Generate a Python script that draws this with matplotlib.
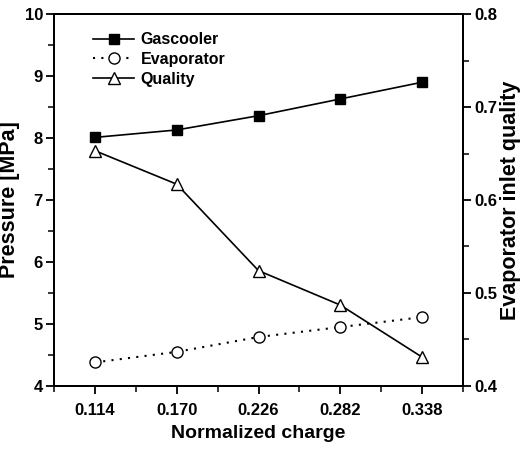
import matplotlib
matplotlib.use("Agg")
import matplotlib.pyplot as plt
from matplotlib.ticker import MultipleLocator, FixedLocator

plt.rcParams['font.family'] = ['Liberation Sans', 'DejaVu Sans']

charge = [0.114, 0.170, 0.226, 0.282, 0.338]
charge_labels = ["0.114", "0.170", "0.226", "0.282", "0.338"]
gascooler = [8.01, 8.13, 8.36, 8.63, 8.90]
evaporator = [4.38, 4.55, 4.79, 4.95, 5.11]
quality = [0.653, 0.617, 0.524, 0.487, 0.431]

fig = plt.figure(figsize=(5.23, 4.53), dpi=100)
ax = fig.add_axes([0.1033, 0.148, 0.782, 0.821])
ax2 = ax.twinx()

l1, = ax.plot(charge, gascooler, '-', color='black', lw=1.2, marker='s',
              ms=7.5, mfc='black', mec='black', label='Gascooler')
l2, = ax.plot(charge, evaporator, linestyle=(0, (1, 3)), color='black', lw=1.5,
              marker='o', ms=8, mfc='white', mec='black', mew=1.0,
              label='Evaporator')
l3, = ax2.plot(charge, quality, '-', color='black', lw=1.2, marker='^',
               ms=9, mfc='white', mec='black', mew=1.0, label='Quality')

ax.set_xlim(0.086, 0.366)
ax.set_ylim(4, 10)
ax2.set_ylim(0.4, 0.8)

ax.xaxis.set_major_locator(FixedLocator(charge))
ax.set_xticklabels(charge_labels)
ax.xaxis.set_minor_locator(FixedLocator([0.086, 0.142, 0.198, 0.254, 0.310, 0.366]))
ax.yaxis.set_major_locator(MultipleLocator(1))
ax.yaxis.set_minor_locator(MultipleLocator(0.5))
ax2.yaxis.set_major_locator(MultipleLocator(0.1))
ax2.yaxis.set_minor_locator(MultipleLocator(0.05))

for a in (ax, ax2):
    for s in a.spines.values():
        s.set_linewidth(1.4)
    a.tick_params(which='major', direction='out', length=6, width=1.3,
                  labelsize=12, pad=2)
    a.tick_params(which='minor', direction='out', length=4, width=1.1)
ax.tick_params(axis='x', pad=6)
for lab in ax.get_xticklabels() + ax.get_yticklabels() + ax2.get_yticklabels():
    lab.set_fontweight('bold')

ax.set_xlabel('Normalized charge', fontsize=14, fontweight='bold', labelpad=5)
ax.set_ylabel('Pressure [MPa]', fontsize=15.5, fontweight='bold', labelpad=3)
ax2.set_ylabel('Evaporator inlet quality', fontsize=15.5, fontweight='bold', labelpad=2)

leg = ax.legend(handles=[l1, l2, l3], loc='upper left',
                bbox_to_anchor=(0.06, 0.99), frameon=False,
                fontsize=11.5, handlelength=2.6, handletextpad=0.4,
                labelspacing=0.3)
for t in leg.get_texts():
    t.set_fontweight('bold')

fig.savefig('out.png', dpi=100)
